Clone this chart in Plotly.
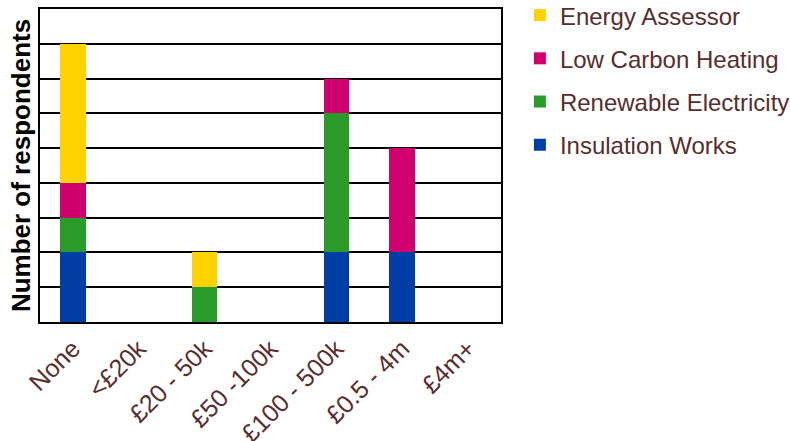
import plotly.graph_objects as go

categories = ["None", "<£20k", "£20 - 50k", "£50 -100k", "£100 - 500k", "£0.5 - 4m", "£4m+"]
insulation_works = [2, 0, 0, 0, 2, 2, 0]
renewable_electricity = [1, 0, 1, 0, 4, 0, 0]
low_carbon_heating = [1, 0, 0, 0, 1, 3, 0]
energy_assessor = [4, 0, 1, 0, 0, 0, 0]

series = [
    ("Insulation Works", insulation_works, "#003DA5", 4),
    ("Renewable Electricity", renewable_electricity, "#2A9A2A", 3),
    ("Low Carbon Heating", low_carbon_heating, "#D0006F", 2),
    ("Energy Assessor", energy_assessor, "#FFD200", 1),
]

fig = go.Figure()
for i, (name, vals, color, rank) in enumerate(series):
    fig.add_trace(go.Bar(
        x=categories, y=vals, name=name, marker=dict(color=color, line=dict(width=0)),
        width=0.39, legendgroup=f"g{i}", legendrank=rank,
    ))

fig.update_layout(
    barmode="stack",
    width=790, height=441,
    margin=dict(l=40, r=289, t=9, b=119, autoexpand=False),
    paper_bgcolor="white", plot_bgcolor="white",
    font=dict(family="Liberation Sans, Arial, sans-serif", color="#5A2D2D"),
    xaxis=dict(
        tickangle=-45, tickfont=dict(size=25, color="#5A2D2D"),
        showline=True, linecolor="black", linewidth=2, mirror=True,
        ticks="", showgrid=False, automargin=False,
    ),
    yaxis=dict(
        range=[0, 9], dtick=1, showticklabels=False, ticks="",
        showgrid=True, gridcolor="black", gridwidth=1.5,
        showline=True, linecolor="black", linewidth=2, mirror=True,
        zeroline=False, automargin=False,
        title=dict(text="<b>Number of respondents</b>", font=dict(size=26, color="black"), standoff=0),
    ),
    legend=dict(
        x=1.041, xanchor="left", y=1.051, yanchor="top",
        font=dict(size=24, color="#5A2D2D"),
        traceorder="grouped", tracegroupgap=9,
        bgcolor="rgba(0,0,0,0)",
    ),
    showlegend=True,
)

fig.write_html("out.html")
